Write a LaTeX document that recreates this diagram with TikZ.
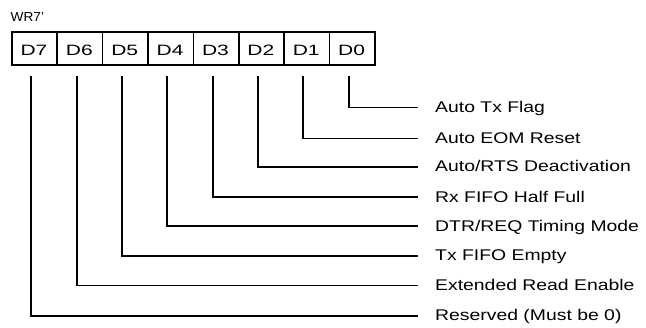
\documentclass[tikz,border=0pt]{standalone}
\usepackage{fontspec}
\usepackage{graphicx}
\setmainfont{Liberation Sans}
\begin{document}
\begin{tikzpicture}[x=1pt,y=-1pt,
  cellbox/.style={draw=black,line width=1.6pt,minimum width=45.4pt,minimum height=33pt,inner sep=0pt,anchor=north west},
  celltext/.style={inner sep=0pt,anchor=base,font=\fontsize{15}{15}\selectfont},
  labtext/.style={inner sep=0pt,anchor=base west,font=\fontsize{15.5}{15.5}\selectfont},
  lead/.style={line width=1.5pt,line cap=rect}]
\useasboundingbox (0,0) rectangle (646,328);
\node[inner sep=0pt,anchor=base west,font=\fontsize{13}{13}\selectfont] (title) at (10.5,21.5) {\scalebox{1.05}[1]{WR7'}};
% cells
\foreach \i/\b in {0/7,1/6,2/5,3/4,4/3,5/2,6/1,7/0}{
  \node[cellbox] (c\b) at ({11+45.375*\i},31) {};
  \node[celltext] (t\b) at ({34+45.375*\i},55.5) {\scalebox{1.4}[1]{D\b}};
}
% labels and leaders
\foreach \b/\x/\y/\txt in {
  0/349/107.3/{Auto Tx Flag},
  1/303/138.3/{Auto EOM Reset},
  2/258/166.9/{Auto/RTS Deactivation},
  3/213/197.2/{Rx FIFO Half Full},
  4/167/226.2/{DTR/REQ Timing Mode},
  5/122/256.0/{Tx FIFO Empty},
  6/77/285.5/{Extended Read Enable},
  7/31/316.0/{Reserved (Must be 0)}}{
  \coordinate (s\b) at (\x,77);
  \coordinate (e\b) at (417,\y);
  \node[labtext] (l\b) at (435,{\y+5}) {\scalebox{1.25}[1]{\txt}};
  \draw[lead] (s\b) |- (e\b);
}
\end{tikzpicture}
\end{document}
